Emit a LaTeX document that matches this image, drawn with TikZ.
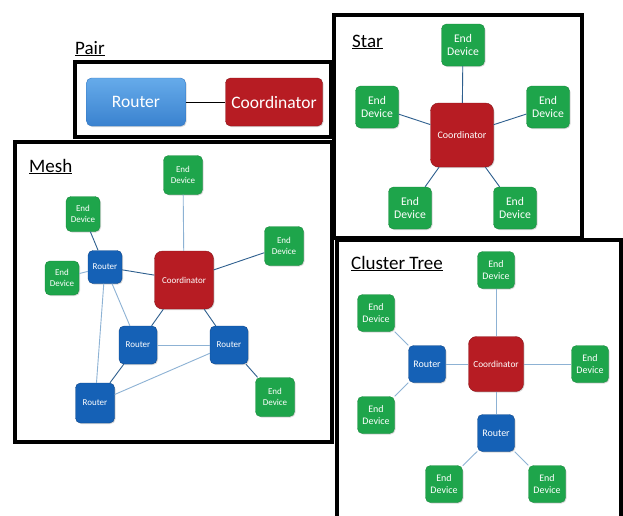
\documentclass[tikz,border=0pt]{standalone}
\usepackage{fontspec}
\setmainfont{Carlito}
\usepackage{tikz}
\usetikzlibrary{shadows}
\definecolor{devgreen}{HTML}{1EA54B}
\definecolor{devedge}{HTML}{168A3B}
\definecolor{corered}{HTML}{B71C23}
\definecolor{coreedge}{HTML}{8A1418}
\definecolor{rtrblue}{HTML}{1561B6}
\definecolor{rtredge}{HTML}{0D468A}
\definecolor{pairtop}{HTML}{66ABEA}
\definecolor{pairbot}{HTML}{3A82CF}
\definecolor{pairedge}{HTML}{3477C2}
\definecolor{linkdark}{HTML}{2E5F8E}
\definecolor{linklight}{HTML}{8DB2D4}

\begin{document}
\begin{tikzpicture}[x=1pt, y=-1pt,
  frame/.style={draw, line width=3.2pt, fill=white, drop shadow={opacity=0.25, shadow xshift=2pt, shadow yshift=-2pt}},
  title/.style={anchor=base west, inner sep=0pt, font=\fontsize{19}{22}\selectfont},
  box/.style={draw, thin, rounded corners=5pt, text=white, align=center, inner sep=0pt, drop shadow={opacity=0.3, shadow xshift=1pt, shadow yshift=-1pt}},
  dev/.style={box, fill=devgreen, draw=devedge},
  coord/.style={box, fill=corered, draw=coreedge, rounded corners=8pt},
  rtr/.style={box, fill=rtrblue, draw=rtredge},
  link/.style={draw=linkdark, line width=0.9pt},
  weak/.style={draw=linklight, line width=0.9pt}]
\useasboundingbox (0,0) rectangle (623,515);
% frames
\draw[frame] (75,62) rectangle (331,137);
\draw[frame] (15,142) rectangle (332,442);
\draw[frame] (334,15) rectangle (582,238);
\draw[frame] (337,240) rectangle (621,518);
\node[title] (tpair) at (75,54) {\underline{Pair}};
\node[title] (tmesh) at (29,172) {\underline{Mesh}};
\node[title] (tstar) at (352,47) {\underline{Star}};
\node[title] (ttree) at (351,269) {\underline{Cluster Tree}};
% pair
\node[box, draw=pairedge, top color=pairtop, bottom color=pairbot, minimum width=99pt, minimum height=48pt, font=\fontsize{17.5}{20}\selectfont] (pr) at (136,102) {Router};
\node[coord, rounded corners=5pt, minimum width=97pt, minimum height=48pt, font=\fontsize{17.5}{20}\selectfont] (pc) at (274,102) {Coordinator};
\draw[line width=1pt] (pr) -- (pc);
% mesh
\begin{scope}[every node/.append style={font=\fontsize{9}{10.5}\selectfont}]
\node[coord, minimum width=59pt, minimum height=58pt] (mc) at (184,280) {Coordinator};
\node[dev, minimum size=39pt] (mdt) at (183,175) {End\\Device};
\node[dev, minimum width=34pt, minimum height=35pt] (mdlt) at (83,214) {End\\Device};
\node[dev, minimum size=39pt] (mdr) at (284,246) {End\\Device};
\node[dev, minimum width=34pt, minimum height=34pt] (mdl) at (62,278) {End\\Device};
\node[dev, minimum size=39pt] (mdbr) at (275,397) {End\\Device};
\node[rtr, minimum width=34pt, minimum height=33pt] (mr1) at (105,267) {Router};
\node[rtr, minimum size=38pt] (mr2) at (138,345) {Router};
\node[rtr, minimum size=38pt] (mr3) at (229,345) {Router};
\node[rtr, minimum width=39pt, minimum height=40pt] (mr4) at (95,403) {Router};
\end{scope}
\foreach \a/\b in {mr1/mdlt, mr1/mc, mc/mr2, mc/mr3, mr2/mr4, mr3/mdbr, mc/mdr}
  \draw[link] (\a) -- (\b);
\foreach \a/\b in {mdt/mc, mr1/mdl, mr1/mr2, mr1/mr4, mr2/mr3, mr3/mr4}
  \draw[weak] (\a) -- (\b);
% star
\node[coord, minimum width=63pt, minimum height=64pt, font=\fontsize{10}{12}\selectfont] (sc) at (462,135) {Coordinator};
\begin{scope}[every node/.append style={minimum width=43pt, minimum height=42pt, font=\fontsize{11.7}{13.5}\selectfont}]
\node[dev] (sdt) at (463,45) {End\\Device};
\node[dev] (sdl) at (377,107) {End\\Device};
\node[dev] (sdr) at (548,107) {End\\Device};
\node[dev] (sdbl) at (410,208) {End\\Device};
\node[dev] (sdbr) at (515,208) {End\\Device};
\end{scope}
\foreach \d in {sdt, sdl, sdr, sdbl, sdbr}
  \draw[link] (sc) -- (\d);
% cluster tree
\node[coord, minimum size=55pt, font=\fontsize{9.3}{11}\selectfont] (tc) at (496,364) {Coordinator};
\begin{scope}[every node/.append style={minimum width=37pt, minimum height=37pt, font=\fontsize{10}{11.5}\selectfont}]
\node[rtr] (trl) at (427,364) {Router};
\node[rtr] (trb) at (496,433) {Router};
\node[dev] (tdt) at (496,270) {End\\Device};
\node[dev] (tdr) at (590,364) {End\\Device};
\node[dev] (tdlt) at (376,313) {End\\Device};
\node[dev] (tdlb) at (376,415) {End\\Device};
\node[dev] (tdbl) at (444,484) {End\\Device};
\node[dev] (tdbr) at (547,484) {End\\Device};
\end{scope}
\foreach \a/\b in {tc/tdt, tc/tdr, tc/trl, tc/trb, trl/tdlt, trl/tdlb, trb/tdbl, trb/tdbr}
  \draw[weak] (\a) -- (\b);
\end{tikzpicture}
\end{document}
